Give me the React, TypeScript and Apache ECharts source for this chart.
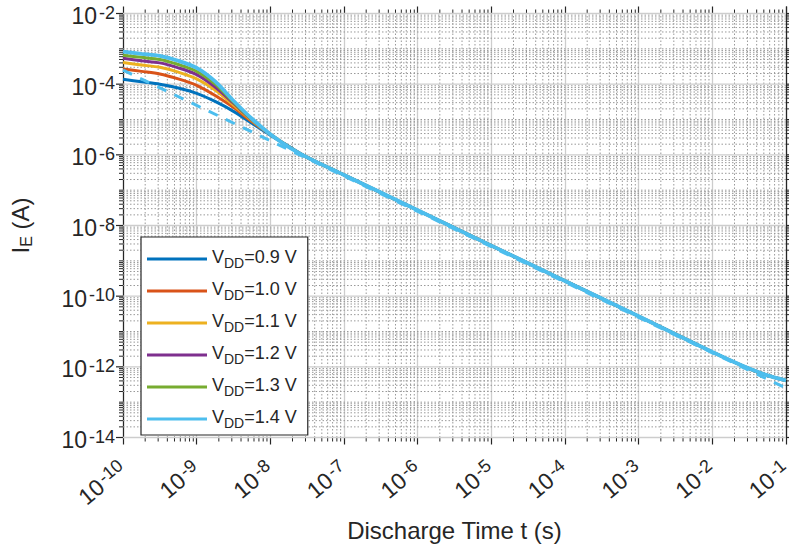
import React, { useEffect, useRef } from 'react';
import * as echarts from 'echarts';

// Discharge time axis (s)
const times = [1e-10, 1.78e-10, 3.16e-10, 5.62e-10, 1e-9, 1.78e-9, 3.16e-9, 5.62e-9, 1e-8, 1.78e-8, 3.16e-8, 1e-7, 1e-6, 1e-5, 1e-4, 1e-3, 1e-2, 3.16e-2, 5.62e-2, 1e-1];

// Emitter current I_E (A) for each supply voltage
const iVdd09 = [1.38e-4, 1.17e-4, 1.0e-4, 7.8e-5, 5.5e-5, 3.24e-5, 1.7e-5, 7.8e-6, 3.6e-6, 1.74e-6, 8.5e-7, 2.7e-7, 2.7e-8, 2.7e-9, 2.7e-10, 2.7e-11, 2.63e-12, 8.9e-13, 5.75e-13, 4.1e-13];
const iVdd10 = [2.7e-4, 2.3e-4, 1.95e-4, 1.41e-4, 9.3e-5, 4.8e-5, 2.2e-5, 8.7e-6, 3.8e-6, 1.7e-6, 8.5e-7, 2.7e-7, 2.7e-8, 2.7e-9, 2.7e-10, 2.7e-11, 2.63e-12, 8.9e-13, 5.75e-13, 4.1e-13];
const iVdd11 = [4.1e-4, 3.5e-4, 3.0e-4, 2.2e-4, 1.41e-4, 6.8e-5, 2.57e-5, 9.3e-6, 3.8e-6, 1.7e-6, 8.5e-7, 2.7e-7, 2.7e-8, 2.7e-9, 2.7e-10, 2.7e-11, 2.63e-12, 8.9e-13, 5.75e-13, 4.1e-13];
const iVdd12 = [5.4e-4, 4.6e-4, 4.0e-4, 2.9e-4, 1.86e-4, 8.3e-5, 2.9e-5, 9.8e-6, 3.8e-6, 1.7e-6, 8.5e-7, 2.7e-7, 2.7e-8, 2.7e-9, 2.7e-10, 2.7e-11, 2.63e-12, 8.9e-13, 5.75e-13, 4.1e-13];
const iVdd13 = [6.6e-4, 5.75e-4, 5.0e-4, 3.6e-4, 2.3e-4, 1.0e-4, 3.1e-5, 1.0e-5, 3.8e-6, 1.7e-6, 8.5e-7, 2.7e-7, 2.7e-8, 2.7e-9, 2.7e-10, 2.7e-11, 2.63e-12, 8.9e-13, 5.75e-13, 4.1e-13];
const iVdd14 = [8.3e-4, 7.2e-4, 6.3e-4, 4.6e-4, 2.9e-4, 1.2e-4, 3.4e-5, 1.05e-5, 3.8e-6, 1.66e-6, 8.5e-7, 2.7e-7, 2.7e-8, 2.7e-9, 2.7e-10, 2.7e-11, 2.63e-12, 8.9e-13, 5.75e-13, 4.1e-13];

// Dashed reference line
const dashTimes = [1e-10, 1e-8, 1e-6, 1e-4, 1e-2, 1e-1];
const dashI = [2.5e-4, 2.5e-6, 2.5e-8, 2.5e-10, 2.5e-12, 2.5e-13];

const seriesNames = ['VDD=0.9 V', 'VDD=1.0 V', 'VDD=1.1 V', 'VDD=1.2 V', 'VDD=1.3 V', 'VDD=1.4 V'];
const seriesData = [iVdd09, iVdd10, iVdd11, iVdd12, iVdd13, iVdd14];
const colors = ['#0072BD', '#D95319', '#EDB120', '#7E2F8E', '#77AC30', '#4DBEEE'];

const X_MIN = 1e-10;
const X_MAX = 1e-1;
const Y_MIN = 1e-14;
const Y_MAX = 1e-2;
const xExpMin = -10, xExpMax = -1;
const yExpMin = -14, yExpMax = -2;

const FONT = "'Liberation Sans', Arial, Helvetica, sans-serif";
const AX = '#262626';
const MAJOR_GRID = '#cdcdcd';
const MINOR_GRID = '#999999';

// minor grid positions (2..9 x 10^k) for x, and all y positions
const xMinor: number[][] = [];
for (let e = xExpMin; e < xExpMax; e++) {
  for (let m = 2; m <= 9; m++) xMinor.push([m * Math.pow(10, e), 1e-8]);
}
const yGrid: number[][] = [];
for (let e = yExpMin; e <= yExpMax; e++) {
  for (let m = 1; m <= 9; m++) {
    if (e === yExpMax && m > 1) break;
    const major = m === 1 && (e - yExpMin) % 2 === 0 ? 1 : 0;
    yGrid.push([1e-5, m * Math.pow(10, e), major]);
  }
}

export default function App() {
  const ref = useRef<HTMLDivElement>(null);
  useEffect(() => {
    document.body.style.margin = '0';
    const chart = echarts.init(ref.current!, null, { renderer: 'svg' });
    const supRich = {
      b: { fontSize: 23, lineHeight: 24, verticalAlign: 'bottom', color: AX, fontFamily: FONT },
      s: { fontSize: 18, lineHeight: 18, verticalAlign: 'top', padding: [0, 1, 10, 2], color: AX, fontFamily: FONT },
    };
    const expFmt = (v: number) => {
      const e = Math.round(Math.log10(v));
      return `{b|10}{s|${e}}`;
    };
    const option: any = {
      animation: false,
      backgroundColor: '#fff',
      grid: { left: 123, right: 3, top: 13.5, bottom: 112.5, containLabel: false, outerBoundsMode: 'none' },
      legend: {
        orient: 'vertical',
        left: 141,
        top: 237,
        data: seriesNames.map((n) => ({ name: n, icon: 'rect' })),
        itemWidth: 60,
        itemHeight: 3,
        itemGap: 2,
        padding: [3, 11, 5, 6],
        borderColor: AX,
        borderWidth: 1.2,
        backgroundColor: '#fff',
        selectedMode: false,
        formatter: (name: string) => `{v|V}{s|DD}{v|${name.slice(3)}}`,
        textStyle: {
          rich: {
            v: { fontSize: 18, lineHeight: 22, verticalAlign: 'top', color: AX, fontFamily: FONT },
            s: { fontSize: 14, lineHeight: 12, verticalAlign: 'bottom', padding: [16, 0, 0, 0], color: AX, fontFamily: FONT },
          },
        },
      },
      xAxis: [
        {
          type: 'log',
          logBase: 10,
          min: X_MIN,
          max: X_MAX,
          interval: 1,
          splitNumber: 9,
          axisLine: { show: true, lineStyle: { color: AX, width: 1.2 } },
          axisTick: { show: true, inside: false, length: 7, lineStyle: { color: AX, width: 1.2 } },
          splitLine: { show: true, lineStyle: { color: MAJOR_GRID, width: 1.3 } },
          axisLabel: { rotate: 40, margin: 27, hideOverlap: false, formatter: expFmt, rich: supRich },
          name: 'Discharge Time t (s)',
          nameLocation: 'middle',
          nameGap: 78,
          nameTextStyle: { fontSize: 24, color: AX, fontFamily: FONT },
        },
        {
          type: 'log',
          logBase: 10,
          min: X_MIN,
          max: X_MAX,
          interval: 1,
          splitNumber: 9,
          position: 'top',
          axisLine: { show: true, lineStyle: { color: AX, width: 1.2 } },
          axisTick: { show: true, inside: false, length: 7, lineStyle: { color: AX, width: 1.2 } },
          splitLine: { show: false },
          axisLabel: { show: false },
        },
      ],
      yAxis: [
        {
          type: 'log',
          logBase: 10,
          min: Y_MIN,
          max: Y_MAX,
          interval: 2,
          splitNumber: 6,
          axisLine: { show: true, lineStyle: { color: AX, width: 1.2 } },
          axisTick: { show: false },
          splitLine: { show: false },
          axisLabel: {
            margin: 7,
            padding: [4, 0, 0, 0],
            hideOverlap: false,
            showMinLabel: true,
            showMaxLabel: true,
            formatter: expFmt,
            rich: supRich,
          },
          name: '{i|I}{e|E}{i| (A)}',
          nameLocation: 'middle',
          nameGap: 89,
          nameTextStyle: {
            rich: {
              i: { fontSize: 24, lineHeight: 26, verticalAlign: 'top', color: AX, fontFamily: FONT },
              e: { fontSize: 16, lineHeight: 15, verticalAlign: 'bottom', padding: [10, 0, 0, 0], color: AX, fontFamily: FONT },
            },
          },
        },
        {
          type: 'log',
          logBase: 10,
          min: Y_MIN,
          max: Y_MAX,
          interval: 2,
          splitNumber: 6,
          position: 'right',
          axisLine: { show: true, lineStyle: { color: AX, width: 1.2 } },
          axisTick: { show: false },
          splitLine: { show: false },
          axisLabel: { show: false },
        },
      ],
      series: [
        {
          type: 'custom',
          silent: true,
          z: 1,
          clip: false,
          xAxisIndex: 0,
          yAxisIndex: 0,
          data: xMinor,
          renderItem: (params: any, api: any) => {
            const x = api.value(0);
            const b = api.coord([x, Y_MIN]);
            const t = api.coord([x, Y_MAX]);
            return {
              type: 'group',
              children: [
                { type: 'line', shape: { x1: b[0], y1: b[1], x2: t[0], y2: t[1] }, style: { stroke: MINOR_GRID, lineWidth: 1, lineDash: [1.5, 2] } },
                { type: 'line', shape: { x1: b[0], y1: b[1], x2: b[0], y2: b[1] + 4 }, style: { stroke: AX, lineWidth: 1 } },
                { type: 'line', shape: { x1: t[0], y1: t[1], x2: t[0], y2: t[1] - 4 }, style: { stroke: AX, lineWidth: 1 } },
              ],
            };
          },
        },
        {
          type: 'custom',
          silent: true,
          z: 1,
          clip: false,
          xAxisIndex: 0,
          yAxisIndex: 0,
          data: yGrid,
          renderItem: (params: any, api: any) => {
            const y = api.value(1);
            const major = api.value(2) === 1;
            const l = api.coord([X_MIN, y]);
            const r = api.coord([X_MAX, y]);
            const len = major ? 7 : 4;
            return {
              type: 'group',
              children: [
                {
                  type: 'line',
                  shape: { x1: l[0], y1: l[1], x2: r[0], y2: r[1] },
                  style: major ? { stroke: MAJOR_GRID, lineWidth: 1.3 } : { stroke: MINOR_GRID, lineWidth: 1, lineDash: [1.5, 2] },
                },
                { type: 'line', shape: { x1: l[0], y1: l[1], x2: l[0] - len, y2: l[1] }, style: { stroke: AX, lineWidth: major ? 1.2 : 1 } },
                { type: 'line', shape: { x1: r[0], y1: r[1], x2: r[0] + len, y2: r[1] }, style: { stroke: AX, lineWidth: major ? 1.2 : 1 } },
              ],
            };
          },
        },
        ...seriesData.map((d, i) => ({
          name: seriesNames[i],
          type: 'line',
          z: 3,
          smooth: 0.3,
          showSymbol: false,
          symbol: 'none',
          color: colors[i],
          lineStyle: { color: colors[i], width: i === 5 ? 3.8 : 3 },
          data: times.map((t, j) => [t, d[j]]),
        })),
        {
          name: 'ref',
          type: 'line',
          z: 4,
          showSymbol: false,
          symbol: 'none',
          color: colors[5],
          lineStyle: { color: colors[5], width: 3, type: [10, 9] },
          data: dashTimes.map((t, j) => [t, dashI[j]]),
        },
      ],
    };
    chart.setOption(option);
    return () => chart.dispose();
  }, []);
  return <div ref={ref} style={{ width: 789, height: 550, overflow: 'hidden' }} />;
}
